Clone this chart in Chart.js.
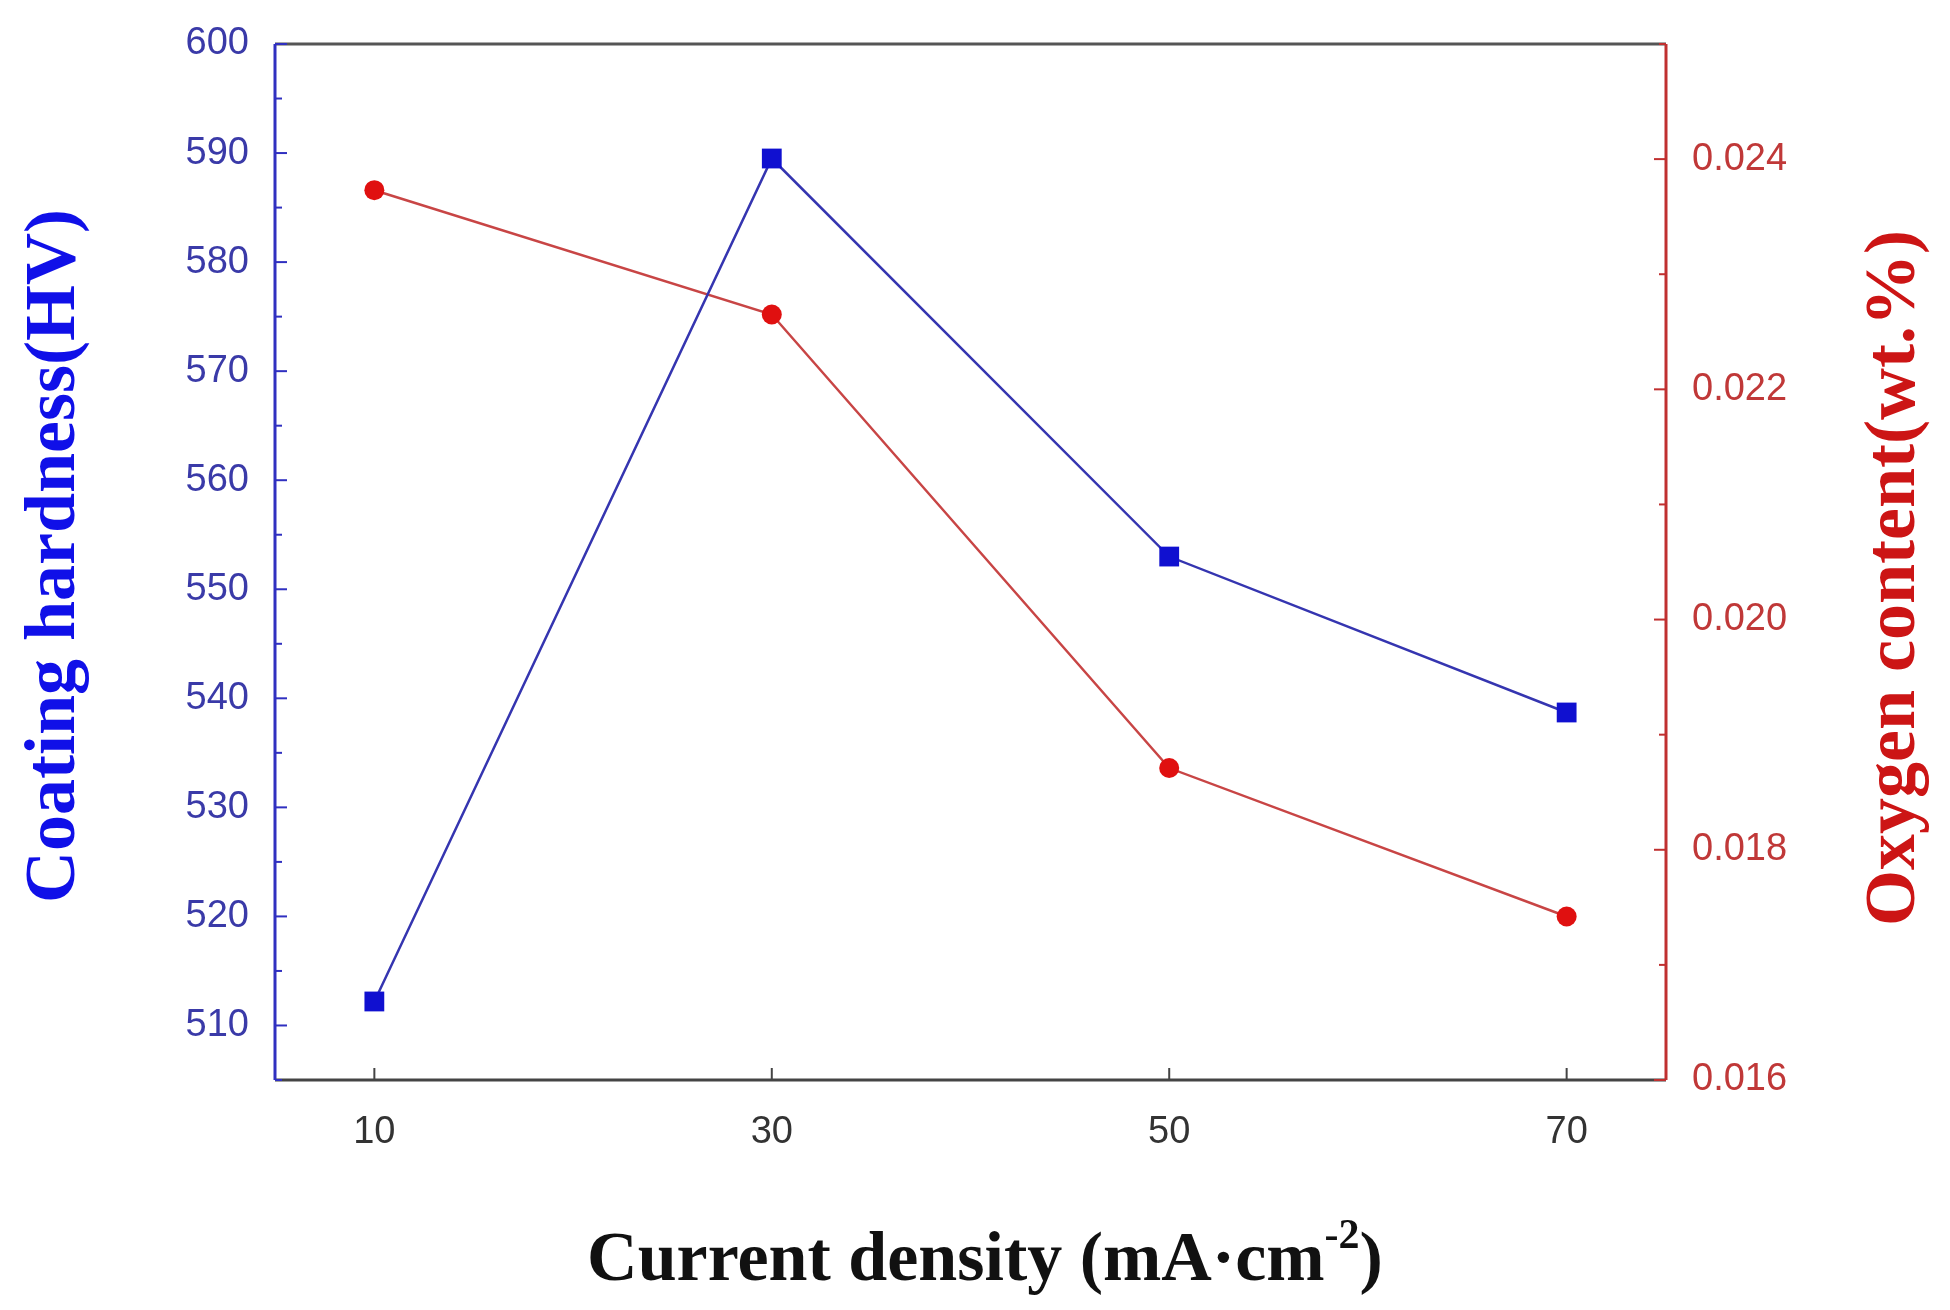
<!DOCTYPE html>
<html><head><meta charset="utf-8">
<script src="https://cdn.jsdelivr.net/npm/chart.js@4/dist/chart.umd.min.js"></script>
<style>html,body{margin:0;padding:0;background:#fff}#w{width:1950px;height:1310px}</style>
</head><body><div id="w"><canvas id="c"></canvas></div>
<script>
const currentDensity = [10, 30, 50, 70];
const hardness = [512.2, 589.5, 553.0, 538.7];
const oxygen = [0.02373, 0.02265, 0.01871, 0.01742];
const xTicks = [10, 30, 50, 70];
const leftTicks = [510, 520, 530, 540, 550, 560, 570, 580, 590, 600];
const rightTicks = [0.016, 0.018, 0.020, 0.022, 0.024];

const tickFont = {family: 'Liberation Sans', size: 38};
const frame = {
  id: 'frame',
  afterDatasetsDraw(ch) {
    const {ctx, chartArea: a, scales} = ch;
    ctx.save();
    ctx.lineWidth = 3;
    ctx.strokeStyle = '#555'; ctx.beginPath(); ctx.moveTo(a.left, a.top); ctx.lineTo(a.right, a.top); ctx.stroke();
    ctx.strokeStyle = '#444'; ctx.beginPath(); ctx.moveTo(a.left, a.bottom); ctx.lineTo(a.right, a.bottom); ctx.stroke();
    ctx.strokeStyle = '#3030c0'; ctx.beginPath(); ctx.moveTo(a.left, a.top); ctx.lineTo(a.left, a.bottom); ctx.stroke();
    ctx.strokeStyle = '#c03030'; ctx.beginPath(); ctx.moveTo(a.right, a.top); ctx.lineTo(a.right, a.bottom); ctx.stroke();
    ctx.lineWidth = 2;
    ctx.strokeStyle = '#3030c0';
    for (let v = 505; v <= 600; v += 5) {
      const y = scales.y.getPixelForValue(v);
      const len = (v % 10 === 0) ? 12 : 7;
      ctx.beginPath(); ctx.moveTo(a.left, y); ctx.lineTo(a.left + len, y); ctx.stroke();
    }
    ctx.strokeStyle = '#c03030';
    for (let i = 16; i <= 25; i++) {
      const y = scales.y2.getPixelForValue(i / 1000);
      const len = (i % 2 === 0) ? 12 : 7;
      ctx.beginPath(); ctx.moveTo(a.right, y); ctx.lineTo(a.right - len, y); ctx.stroke();
    }
    ctx.strokeStyle = '#444';
    for (const v of xTicks) {
      const x = scales.x.getPixelForValue(v);
      ctx.beginPath(); ctx.moveTo(x, a.bottom); ctx.lineTo(x, a.bottom - 12); ctx.stroke();
    }
    // x title with superscript
    ctx.textBaseline = 'alphabetic'; ctx.fillStyle = '#111';
    const main = 'Current density (mA·cm', sup = '-2', end = ')';
    const bigF = 'bold 70px "Liberation Serif"', smF = 'bold 42px "Liberation Serif"';
    ctx.font = bigF; const w1 = ctx.measureText(main).width, w3 = ctx.measureText(end).width;
    ctx.font = smF; const w2 = ctx.measureText(sup).width;
    let x0 = 985 - (w1 + w2 + w3) / 2; const yb = 1280;
    ctx.textAlign = 'left';
    ctx.font = bigF; ctx.fillText(main, x0, yb);
    ctx.font = smF; ctx.fillText(sup, x0 + w1, yb - 32);
    ctx.font = bigF; ctx.fillText(end, x0 + w1 + w2, yb);
    // y titles
    ctx.font = 'bold 72px "Liberation Serif"';
    ctx.textAlign = 'center'; ctx.textBaseline = 'middle';
    ctx.save(); ctx.translate(55, 556); ctx.rotate(-Math.PI / 2);
    ctx.fillStyle = '#1010e8'; ctx.fillText('Coating hardness(HV)', 0, 0); ctx.restore();
    ctx.save(); ctx.translate(1895, 578); ctx.rotate(-Math.PI / 2);
    ctx.fillStyle = '#cc1515'; ctx.fillText('Oxygen content(wt.%)', 0, 0); ctx.restore();
    ctx.restore();
  }
};

new Chart(document.getElementById('c'), {
  type: 'line',
  data: {
    datasets: [
      {data: currentDensity.map((x, i) => ({x, y: hardness[i]})), yAxisID: 'y',
       borderColor: '#3535b0', backgroundColor: '#1010d0', borderWidth: 2.5,
       pointStyle: 'rect', pointRadius: 14, pointBorderWidth: 0, tension: 0},
      {data: currentDensity.map((x, i) => ({x, y: oxygen[i]})), yAxisID: 'y2',
       borderColor: '#c84545', backgroundColor: '#e01010', borderWidth: 2.5,
       pointStyle: 'circle', pointRadius: 10, pointBorderWidth: 0, tension: 0}
    ]
  },
  options: {
    responsive: true, maintainAspectRatio: false, animation: false,
    layout: {padding: {top: 44, left: 0, right: 0, bottom: 0}},
    plugins: {legend: {display: false}, tooltip: {enabled: false}},
    scales: {
      x: {type: 'linear', min: 5, max: 75,
          afterBuildTicks: s => { s.ticks = xTicks.map(v => ({value: v})); },
          afterFit: s => { s.height = 230; },
          grid: {display: false}, border: {display: false},
          ticks: {font: tickFont, color: '#333', padding: 22}},
      y: {position: 'left', min: 505, max: 600,
          afterBuildTicks: s => { s.ticks = leftTicks.map(v => ({value: v})); },
          afterFit: s => { s.width = 275; },
          grid: {display: false}, border: {display: false},
          ticks: {font: tickFont, color: '#3a3aa8', padding: 18}},
      y2: {position: 'right', min: 0.016, max: 0.025,
          afterBuildTicks: s => { s.ticks = rightTicks.map(v => ({value: v})); },
          afterFit: s => { s.width = 284; },
          grid: {display: false}, border: {display: false},
          ticks: {font: tickFont, color: '#c03838', padding: 18, callback: v => v.toFixed(3)}}
    }
  },
  plugins: [frame]
});
</script></body></html>
